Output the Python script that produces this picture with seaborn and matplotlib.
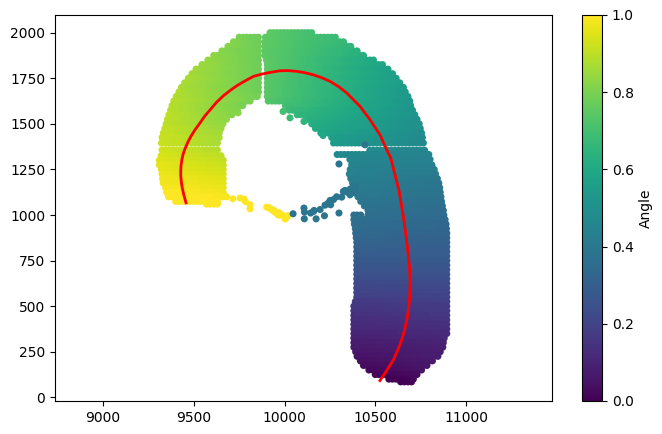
import numpy as np
import pandas as pd
import matplotlib
matplotlib.use("Agg")
import matplotlib.pyplot as plt
from matplotlib.cm import ScalarMappable
from matplotlib.colors import Normalize
import seaborn as sns

# Left arm of the arc: one row of samples per y level
left_y = [1975,1950,1925,1900,1875,1850,1825,1800,1775,1750,1725,1700,1675,1650,1625,1600,1575,1550,1525,1500,1475,1450,1425,1395,
          1357,1325,1300,1275,1250,1225,1200,1175,1150,1125,1100,1075,1060]
left_x0 = [9750,9718,9688,9655,9610,9578,9545,9512,9490,9470,9450,9432,9418,9403,9390,9380,9372,9363,9355,9348,9340,9332,9325,9322,
           9325,9320,9310,9310,9322,9325,9328,9332,9345,9350,9360,9400,9570]
left_x1 = [9856,9856,9856,9856,9856,9856,9856,9856,9856,9856,9856,9856,9856,9850,9810,9770,9740,9710,9680,9660,9650,9640,9640,9630,
           9630,9650,9662,9662,9662,9662,9662,9662,9662,9662,9680,9630,9630]
left_a0 = [.80,.81,.82,.82,.83,.84,.85,.86,.86,.87,.87,.87,.88,.88,.89,.89,.89,.90,.90,.90,.91,.91,.92,.92,
           .93,.94,.95,.96,.96,.97,.98,.98,.99,1,1,1,1]
left_a1 = [.78,.78,.78,.78,.78,.78,.78,.78,.78,.78,.78,.78,.78,.79,.80,.80,.81,.82,.83,.84,.85,.86,.87,.87,
           .89,.90,.91,.92,.93,.94,.95,.96,.97,.98,.99,1,1]

# Crown and shoulder of the arc
top_y = [2000,1975,1950,1925,1900,1875,1850,1825,1800,1775,1750,1725,1700,1675,1650,1625,1600,1575,1550,1525,1500,1475,1450,1425,1395]
top_x0 = [9920,9895,9892,9892,9892,9892,9900,9905,9905,9905,9905,9905,9905,9905,9905,9910,10005,10025,10070,10130,10150,10170,10200,10260,10270]
top_x1 = [10150,10280,10325,10365,10400,10435,10490,10540,10570,10595,10615,10635,10655,10665,10680,10690,10695,10705,10718,10730,10742,10748,10755,10760,10765]
top_a0 = [.75,.75,.75,.75,.75,.75,.75,.75,.75,.75,.74,.74,.74,.74,.74,.73,.70,.68,.66,.64,.62,.61,.59,.56,.55]
top_a1 = [.70,.68,.67,.66,.64,.63,.60,.59,.57,.57,.56,.56,.55,.54,.54,.53,.53,.52,.52,.51,.50,.50,.49,.48,.47]

# Descending column on the right
col_y = [1355,1332,1305,1275,1250,1225,1200,1175,1150,1125,1100,1075,1050,1025,1000,975,950,925,900,875,850,825,800,775,750,725,700,675,650,625,600,
         575,550,525,500,475,450,425,400,375,350,325,300,275,250,225,200,175,150,125,100,85]
col_x0 = [10470,10290,10360,10370,10362,10357,10365,10375,10395,10400,10405,10420,10440,10460,10460,10382,10385,10390,10392,10395,10398,10398,10398,10398,10398,10398,10398,10398,10398,10398,10398,
          10398,10398,10390,10382,10382,10382,10382,10382,10382,10382,10382,10382,10382,10392,10400,10418,10435,10465,10500,10575,10640]
col_x1 = [10772,10795,10802,10812,10825,10832,10842,10850,10855,10858,10862,10865,10870,10875,10878,10885,10890,10892,10894,10894,10894,10894,10894,10894,10894,10894,10894,10894,10894,10894,10894,
          10894,10894,10894,10894,10894,10894,10894,10894,10894,10894,10880,10875,10872,10858,10845,10815,10785,10755,10730,10710,10700]
col_a0 = [.49,.47,.46,.45,.44,.44,.43,.42,.42,.41,.40,.39,.38,.37,.36,.36,.35,.35,.34,.33,.32,.31,.30,.29,.28,.27,.26,.25,.24,.22,.21,
          .20,.19,.17,.16,.15,.14,.13,.12,.11,.10,.09,.08,.07,.06,.05,.04,.03,.02,.01,.00,.00]
col_a1 = [.46,.45,.44,.43,.42,.41,.40,.39,.39,.38,.38,.37,.36,.35,.35,.34,.33,.33,.32,.31,.31,.30,.29,.29,.28,.27,.26,.25,.24,.23,.22,
          .21,.20,.19,.17,.17,.16,.15,.14,.13,.12,.11,.10,.09,.08,.08,.07,.06,.05,.03,.02,.01]

# Short extra span left of the notch in the column
stub_x = [10382, 10400, 10420]
stub_y = [1000, 1000, 1000]
stub_a = [.36, .36, .36]

# Loose samples along the inner rim
yellow_x = [9715,9755,9777,9784,9810,9810,9902,9915,9924,9935,9942,9950,9957,9965,9970,9975,9985,9993,10011,10019,10003]
yellow_y = [1089,1093,1087,1074,1056,1034,1043,1040,1032,1030,1019,1020,1010,1000,1012,1001,1000,996,988,996,978]
teal_x = [10047,10107,10110,10109,10144,10159,10174,10163,10196,10220,10223,10240,10251,10254,10270,10287,10300,10315,10300,10324,10333,10345,10361,10361,10375,10389,10389,10443]
teal_y = [1007,1038,1016,979,1011,1019,979,1025,1030,996,1054,1065,1080,1056,1085,1100,1011,1098,1280,1129,1135,1125,1142,1111,1150,1157,1121,1385]
rim_x = [10030,10107,10212,9992,9744]
rim_y = [1533,1513,1436,1568,1561]
rim_a = [.68,.65,.60,.70,.82]

# Fitted centre line
curve_x = [10526,10563,10600,10620,10640,10655,10666,10676,10683,10690,10692,10691,10689,10684,10679,10672,10660,10650,10640,10630,10613,10585,10563,10526,10471,10416,10343,10300,10251,10205,10159,10110,10067,10020,9975,9920,9875,9828,9785,9737,9700,9663,9625,9590,9560,9534,9505,9483,9465,9450,9440,9434,9430,9428,9428,9431,9436,9445,9457]
curve_y = [92,147,206,250,298,345,388,435,480,555,628,670,709,760,809,864,957,1019,1080,1139,1204,1314,1358,1440,1523,1596,1669,1703,1733,1753,1769,1781,1788,1792,1791,1782,1773,1760,1737,1709,1683,1654,1618,1577,1542,1505,1465,1430,1395,1360,1330,1303,1275,1245,1215,1182,1150,1110,1067]

step = 20


def expand(ys, x0s, x1s, a0s, a1s):
    """Lay samples along each row between its end points."""
    out = []
    for y, x0, x1, a0, a1 in zip(ys, x0s, x1s, a0s, a1s):
        n = max(2, int(round((x1 - x0) / step)) + 1)
        out.append(pd.DataFrame({"x": np.linspace(x0, x1, n), "y": y, "Angle": np.linspace(a0, a1, n)}))
    return out


frames = (expand(left_y, left_x0, left_x1, left_a0, left_a1)
          + expand(top_y, top_x0, top_x1, top_a0, top_a1)
          + expand(col_y, col_x0, col_x1, col_a0, col_a1))
frames.append(pd.DataFrame({"x": stub_x, "y": stub_y, "Angle": stub_a}))
frames.append(pd.DataFrame({"x": yellow_x, "y": yellow_y, "Angle": 1.0}))
frames.append(pd.DataFrame({"x": teal_x, "y": teal_y, "Angle": 0.39}))
frames.append(pd.DataFrame({"x": rim_x, "y": rim_y, "Angle": rim_a}))
points = pd.concat(frames, ignore_index=True)

W, H = 662, 434
fig = plt.figure(figsize=(W / 100, H / 100), dpi=100)
ax = fig.add_axes([55 / W, 1 - 401 / H, 497 / W, 386 / H])
cax = fig.add_axes([582 / W, 1 - 401 / H, 20 / W, 386 / H])

sns.scatterplot(data=points, x="x", y="y", hue="Angle", palette="viridis",
                hue_norm=(0, 1), s=26, linewidth=0, legend=False, ax=ax)
sns.lineplot(x=curve_x, y=curve_y, sort=False, estimator=None, color="red",
             linewidth=2, ax=ax)

ax.set_xlim(8735, 11474)
ax.set_ylim(-20, 2097)
ax.set_xticks([9000, 9500, 10000, 10500, 11000])
ax.set_yticks(range(0, 2001, 250))
ax.set_xlabel("")
ax.set_ylabel("")

bar = fig.colorbar(ScalarMappable(Normalize(0, 1), "viridis"), cax=cax)
bar.set_label("Angle")
bar.set_ticks(np.arange(0, 1.01, 0.2))

fig.savefig("out.png", dpi=100)
